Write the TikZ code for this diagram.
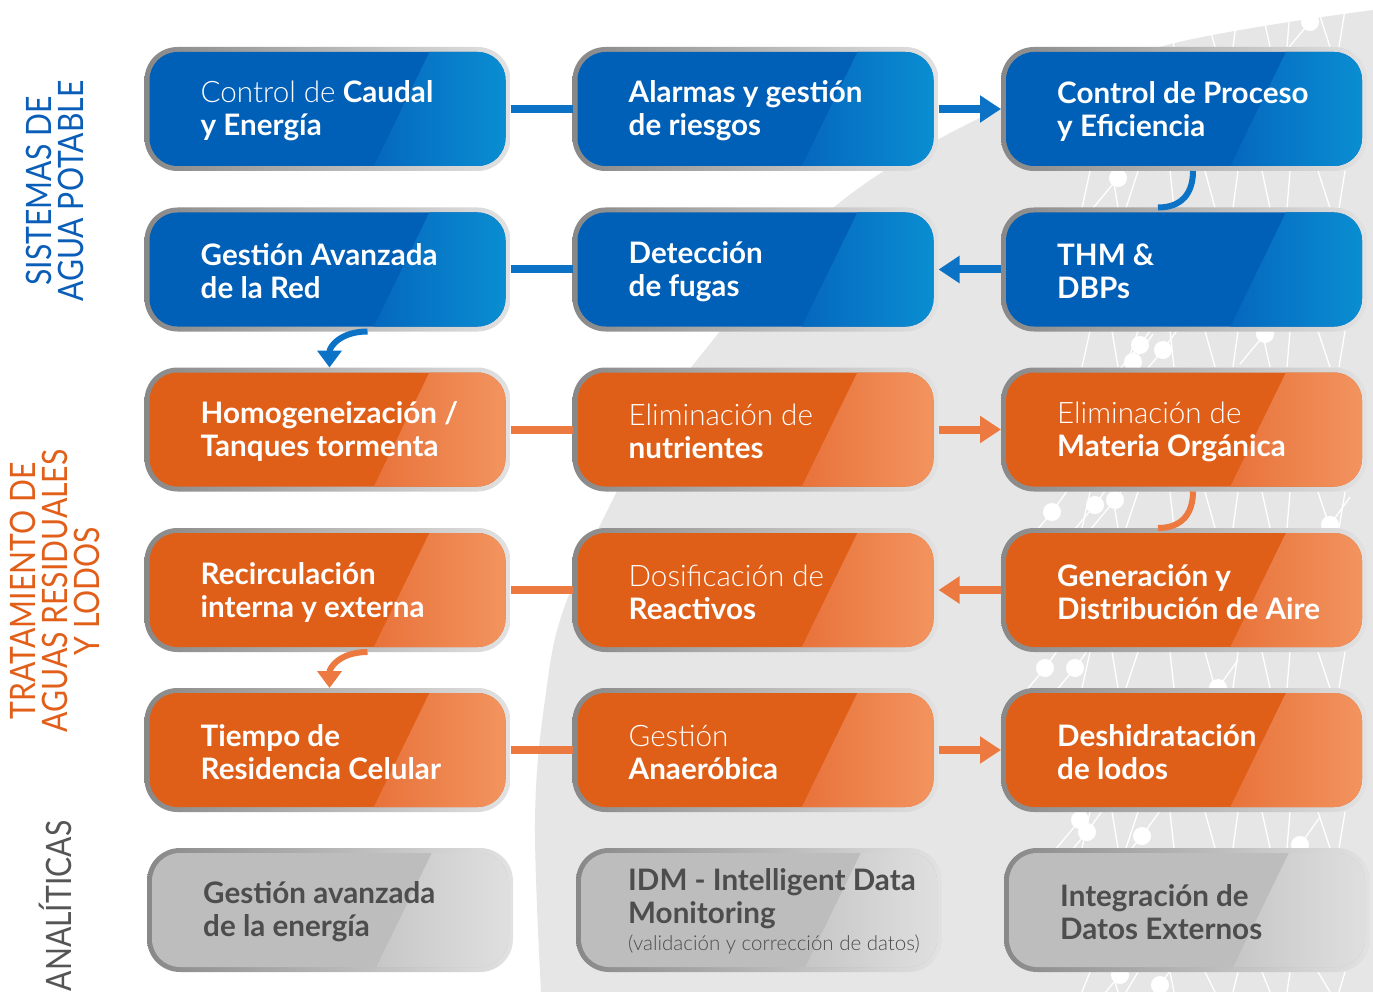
\documentclass[tikz,border=0pt]{standalone}
\usepackage{fontspec}
\setmainfont{Lato}
\newfontfamily\ltf{Lato Light}
\newfontfamily\condf[FakeStretch=0.86]{Lato}
\usetikzlibrary{calc,arrows.meta}
\definecolor{bgg}{HTML}{E6E6E6}
\definecolor{bordL}{HTML}{888888}
\definecolor{bordR}{HTML}{E2E2E2}
\definecolor{bbase}{HTML}{005FB6}
\definecolor{bmid}{HTML}{0567BE}
\definecolor{bhi}{HTML}{0A8FD2}
\definecolor{obase}{HTML}{E05F18}
\definecolor{omid}{HTML}{E8723A}
\definecolor{ohi}{HTML}{F39560}
\definecolor{gbase}{HTML}{BDBDBD}
\definecolor{gmid}{HTML}{C6C6C6}
\definecolor{ghi}{HTML}{E0E0E0}
\definecolor{bline}{HTML}{0B72C6}
\definecolor{oline}{HTML}{EC7A40}
\definecolor{txtgrey}{HTML}{4D4D4D}
\definecolor{sideblue}{HTML}{0A5EB8}
\definecolor{sideorange}{HTML}{E25F1A}
\definecolor{sidegrey}{HTML}{555555}
\begin{document}
\begin{tikzpicture}[x=1pt,y=-1pt,
  card/.style n args={3}{rectangle, rounded corners=33pt, minimum width=366pt, minimum height=124pt, inner sep=0pt, outer sep=0pt,
    path picture={
      \path (path picture bounding box.south west) coordinate (pSW);
      \path (path picture bounding box.north east) coordinate (pNE);
      \path (pSW |- pNE) coordinate (pNW);
      \path (pNE |- pSW) coordinate (pSE);
      \shade[sharp corners, left color=bordL, right color=bordR] (pSW) rectangle (pNE);
      \begin{scope}
        \clip[rounded corners=28pt] ([shift={(5pt,5pt)}]pSW) rectangle ([shift={(-5pt,-5pt)}]pNE);
        \fill[#1, sharp corners] (pSW) rectangle (pNE);
        \shade[sharp corners, left color=#2, right color=#3] ($(pSW)!0.62!(pSE)$) -- ($(pNW)!0.785!(pNE)$) -- (pNE) -- (pSE) -- cycle;
      \end{scope}}},
  bluecard/.style={card={bbase}{bmid}{bhi}},
  orangecard/.style={card={obase}{omid}{ohi}},
  greycard/.style={card={gbase}{gmid}{ghi}},
  txtw/.style={anchor=west, align=left, inner sep=0pt, text=white, font=\bfseries\fontsize{29.6}{33}\selectfont},
  txtg/.style={txtw, text=txtgrey},
  bconn/.style={draw=bline, line width=8pt},
  oconn/.style={draw=oline, line width=8pt},
  bcurve/.style={draw=bline, line width=6pt},
  ocurve/.style={draw=oline, line width=6pt},
  btip/.style={-{Triangle[length=21pt,width=26pt]}},
  ctip/.style={-{Triangle[length=17pt,width=24pt]}},
  netl/.style={draw=white, line width=1.3pt},
  netd/.style={fill=white},
  side/.style={rotate=90, align=center, inner sep=0pt, font=\condf\fontsize{35}{32}\selectfont}
]
\useasboundingbox (0,0) rectangle (1373,992);
\fill[white] (0,0) rectangle (1373,992);
\fill[bgg] plot[smooth, tension=0.6] coordinates {(541,992) (535,820) (545,700) (567,600) (640,447) (697,360) (833,208) (1000,108) (1167,45) (1373,10)} -- (1373,992) -- cycle;

% network decoration
\foreach \ya/\yb in {10/47, 171/208, 331/367, 492/528, 652/688, 812/848, 972/992}{
  \foreach \x/\t in {1090/-8, 1112/6, 1138/-12, 1170/4, 1205/10, 1238/-5, 1262/8, 1290/-3, 1318/12, 1345/-6}{
    \draw[netl] (\x,\ya) -- (\x+\t,\yb);
  }
}
\foreach \px/\py in {1310/22, 1118/178, 1140/345, 1163/350, 1133/362, 1265/334, 1052/512, 1095/505, 1115/500, 1330/525, 1045/668, 1075/668, 1218/688, 1080/820, 1087/832, 1142/836, 1300/845, 1120/975, 1160/985}{
  \fill[netd] (\px,\py) circle (9pt);
  \draw[netl] (\px,\py) -- (\px-25,\py+30);
  \draw[netl] (\px,\py) -- (\px+20,\py-28);
}

% side labels
\node[side, text=sideblue] (s1) at (55,191) {SISTEMAS DE\\AGUA POTABLE};
\node[side, text=sideorange] (s2) at (55,591) {TRATAMIENTO DE\\AGUAS RESIDUALES\\Y LODOS};
\node[side, text=sidegrey] (s3) at (55,906) {ANALÍTICAS};

% cards
\node[bluecard] (b11) at (327.5,109) {};
\node[bluecard] (b12) at (755.5,109) {};
\node[bluecard] (b13) at (1184,109) {};
\node[bluecard] (b21) at (327.5,269.5) {};
\node[bluecard] (b22) at (755.5,269.5) {};
\node[bluecard] (b23) at (1184,269.5) {};
\node[orangecard] (b31) at (327.5,429.5) {};
\node[orangecard] (b32) at (755.5,429.5) {};
\node[orangecard] (b33) at (1184,429.5) {};
\node[orangecard] (b41) at (327.5,590) {};
\node[orangecard] (b42) at (755.5,590) {};
\node[orangecard] (b43) at (1184,590) {};
\node[orangecard] (b51) at (327.5,750) {};
\node[orangecard] (b52) at (755.5,750) {};
\node[orangecard] (b53) at (1184,750) {};
\node[greycard] (b61) at (330,910) {};
\node[greycard] (b62) at (759,910) {};
\node[greycard] (b63) at (1187,910) {};

% texts
\tikzset{tpos/.style={xshift=56pt,yshift=-2pt}}
\node[txtw] (t11) at ([tpos]b11.west) {{\mdseries\ltf Control de} Caudal\\y Energía};
\node[txtw] (t12) at ([tpos]b12.west) {Alarmas y gestión\\de riesgos};
\node[txtw] (t13) at ([tpos]b13.west) {Control de Proceso\\y Eficiencia};
\node[txtw] (t21) at ([tpos]b21.west) {Gestión Avanzada\\de la Red};
\node[txtw] (t22) at ([tpos]b22.west) {Detección\\de fugas};
\node[txtw] (t23) at ([tpos]b23.west) {THM \&\\DBPs};
\node[txtw] (t31) at ([tpos]b31.west) {Homogeneización /\\Tanques tormenta};
\node[txtw] (t32) at ([tpos]b32.west) {{\mdseries\ltf Eliminación de}\\nutrientes};
\node[txtw] (t33) at ([tpos]b33.west) {{\mdseries\ltf Eliminación de}\\Materia Orgánica};
\node[txtw] (t41) at ([tpos]b41.west) {Recirculación\\interna y externa};
\node[txtw] (t42) at ([tpos]b42.west) {{\mdseries\ltf Dosificación de}\\Reactivos};
\node[txtw] (t43) at ([tpos]b43.west) {Generación y\\Distribución de Aire};
\node[txtw] (t51) at ([tpos]b51.west) {Tiempo de\\Residencia Celular};
\node[txtw] (t52) at ([tpos]b52.west) {{\mdseries\ltf Gestión}\\Anaeróbica};
\node[txtw] (t53) at ([tpos]b53.west) {Deshidratación\\de lodos};
\node[txtg] (t61) at ([tpos]b61.west) {Gestión avanzada\\de la energía};
\node[txtg] (t62) at ([xshift=52pt,yshift=-1pt]b62.west) {IDM - Intelligent Data\\Monitoring\\[-6pt]{\mdseries\ltf\fontsize{20.5}{22}\selectfont (validación y corrección de datos)}};
\node[txtg] (t63) at ([tpos]b63.west) {Integración de\\Datos Externos};

% connectors
\draw[bconn] (b11) -- (b12);
\draw[bconn, btip] (b12) -- (b13);
\draw[bcurve] ([xshift=9pt]b13.south) .. controls +(0,22) and +(24,0) .. ([xshift=-26pt]b23.north);
\draw[bconn, btip] (b23) -- (b22);
\draw[bconn] (b22) -- (b21);
\draw[bcurve, ctip] ([xshift=40pt]b21.south) .. controls +(-28,0) and +(0,-20) .. ([xshift=2pt]b31.north);
\draw[oconn] (b31) -- (b32);
\draw[oconn, btip] (b32) -- (b33);
\draw[ocurve] ([xshift=9pt]b33.south) .. controls +(0,22) and +(24,0) .. ([xshift=-26pt]b43.north);
\draw[oconn, btip] (b43) -- (b42);
\draw[oconn] (b42) -- (b41);
\draw[ocurve, ctip] ([xshift=40pt]b41.south) .. controls +(-28,0) and +(0,-20) .. ([xshift=2pt]b51.north);
\draw[oconn] (b51) -- (b52);
\draw[oconn, btip] (b52) -- (b53);
\end{tikzpicture}
\end{document}
